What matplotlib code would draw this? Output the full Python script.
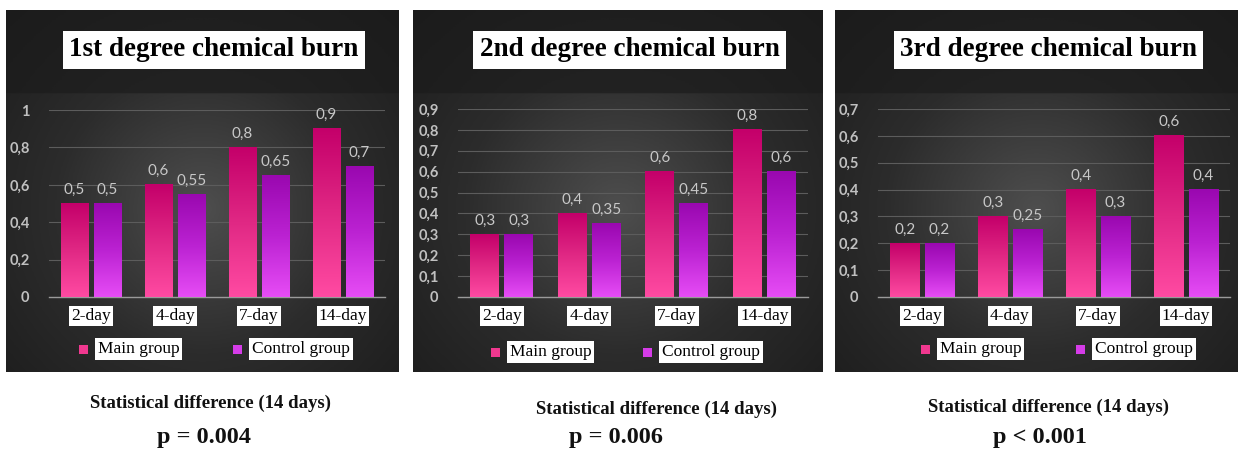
import numpy as np
import matplotlib
matplotlib.use('Agg')
from matplotlib import pyplot as plt
from matplotlib.colors import LinearSegmentedColormap

W, H = 1242, 450

days = ['2-day', '4-day', '7-day', '14-day']
titles = ['1st degree chemical burn', '2nd degree chemical burn', '3rd degree chemical burn']
main_1 = [0.5, 0.6, 0.8, 0.9]
control_1 = [0.5, 0.55, 0.65, 0.7]
main_2 = [0.3, 0.4, 0.6, 0.8]
control_2 = [0.3, 0.35, 0.45, 0.6]
main_3 = [0.2, 0.3, 0.4, 0.6]
control_3 = [0.2, 0.25, 0.3, 0.4]
p_values = ['p = 0.004', 'p = 0.006', 'p < 0.001']
ymax = [1.0, 0.9, 0.7]
ysteps = [0.2, 0.1, 0.1]

# pixel boxes: panel, plot area, caption centres
panels = [(6, 10, 398, 372), (413, 10, 822, 372), (835, 10, 1238, 372)]
plots = [(49, 110, 385, 297), (458, 109, 808, 297), (878, 109, 1230, 297)]
captions = [(211, 403, 204, 437), (656, 409, 616, 438), (1049, 407, 1040, 437)]
legend_x = [(83, 237), (495, 647), (925, 1080)]
legend_y = [349, 352, 349]

main_cmap = LinearSegmentedColormap.from_list('main', ['#ff4aa2', '#e02884', '#c4006a'])
ctrl_cmap = LinearSegmentedColormap.from_list('ctrl', ['#e64cf5', '#bb22d2', '#9a08b0'])
bg_cmap = LinearSegmentedColormap.from_list('bg', ['#1b1b1b', '#2c2c2c', '#4e4e4e'])


def box(x0, y0, x1, y1):
    return [x0 / W, 1 - y1 / H, (x1 - x0) / W, (y1 - y0) / H]


def fmt(v):
    s = ('%.2f' % v).rstrip('0').rstrip('.')
    return s.replace('.', ',')


fig = plt.figure(figsize=(W / 100, H / 100), dpi=100)
fig.patch.set_facecolor('white')

serif = 'Liberation Serif'
sans = 'Lato'

data = [(main_1, control_1), (main_2, control_2), (main_3, control_3)]

for k in range(3):
    px0, py0, px1, py1 = panels[k]
    # panel background with soft radial light
    bg = fig.add_axes(box(*panels[k]))
    yy, xx = np.mgrid[0:1:200j, 0:1:200j]
    r = np.sqrt(((xx - 0.5) / 0.75) ** 2 + ((yy - 0.55) / 0.8) ** 2)
    grad = np.clip(1 - r, 0, 1)
    grad[yy < 0.23] *= 0.35
    bg.imshow(grad, cmap=bg_cmap, aspect='auto', extent=[0, 1, 1, 0], vmin=0, vmax=1)
    bg.set_xlim(0, 1)
    bg.set_ylim(1, 0)
    bg.axis('off')

    main, ctrl = data[k]
    ax = fig.add_axes(box(*plots[k]))
    ax.patch.set_alpha(0)
    x = np.arange(len(days))
    bw = 0.33
    b1 = ax.bar(x - 0.195, main, bw, color='none', zorder=3)
    b2 = ax.bar(x + 0.195, ctrl, bw, color='none', zorder=3)
    g = np.linspace(0, 1, 100).reshape(-1, 1)
    for bars, cm in ((b1, main_cmap), (b2, ctrl_cmap)):
        for p in bars:
            ax.imshow(g, cmap=cm, aspect='auto', origin='lower', zorder=3,
                      extent=[p.get_x(), p.get_x() + p.get_width(), 0, p.get_height()])
            ax.text(p.get_x() + p.get_width() / 2, p.get_height() + ymax[k] * 0.035,
                    fmt(p.get_height()), ha='center', va='bottom', color='#c8c8c8',
                    fontsize=11, family=sans, zorder=4)
    ax.set_xlim(-0.5, len(days) - 0.5)
    ax.set_ylim(0, ymax[k])
    ticks = np.arange(0, ymax[k] + 1e-6, ysteps[k])
    ax.set_yticks(ticks)
    ax.set_yticklabels([fmt(t) if t > 0 else '0' for t in ticks])
    ax.tick_params(axis='y', length=0, colors='#c0c0c0', labelsize=10.5, pad=14)
    for lab in ax.get_yticklabels():
        lab.set_family(sans)
        lab.set_fontweight('bold')
    ax.set_xticks(x)
    ax.set_xticklabels(days)
    ax.tick_params(axis='x', length=0, pad=8, labelsize=12.5)
    for lab in ax.get_xticklabels():
        lab.set_family(serif)
        lab.set_color('black')
        lab.set_bbox(dict(facecolor='white', edgecolor='none', pad=1.5))
    ax.grid(axis='y', color='#5c5c5c', linewidth=0.8, zorder=0)
    ax.set_axisbelow(True)
    for s in ['top', 'right', 'left']:
        ax.spines[s].set_visible(False)
    ax.spines['bottom'].set_color('#9a9a9a')
    ax.spines['bottom'].set_linewidth(1.0)

    # title
    tx = (px0 + px1) / 2 + 12
    fig.text(tx / W, 1 - 50 / H, titles[k], ha='center', va='center', fontsize=19.5,
             fontweight='bold', family=serif, color='black',
             bbox=dict(facecolor='white', edgecolor='none', pad=4.5))

    # legend
    for lx, label, col in zip(legend_x[k], ['Main group', 'Control group'], ['#f0388f', '#d53ce8']):
        fig.patches.append(plt.Rectangle(((lx - 4.5) / W, 1 - (legend_y[k] + 4.5) / H), 9 / W, 9 / H,
                                         transform=fig.transFigure, facecolor=col, edgecolor='none'))
        fig.text((lx + 15) / W, 1 - legend_y[k] / H, label, ha='left', va='center', fontsize=12.5,
                 family=serif, color='black',
                 bbox=dict(facecolor='white', edgecolor='none', pad=2))

    # caption below panel
    cx, cy, qx, qy = captions[k]
    fig.text(cx / W, 1 - cy / H, 'Statistical difference (14 days)', ha='center', va='center',
             fontsize=13.5, fontweight='bold', family=serif, color='#111111')
    fig.text(qx / W, 1 - qy / H, p_values[k], ha='center', va='center',
             fontsize=17.5, fontweight='bold', family=serif, color='#111111')

fig.savefig('out.png', dpi=100, facecolor='white')
